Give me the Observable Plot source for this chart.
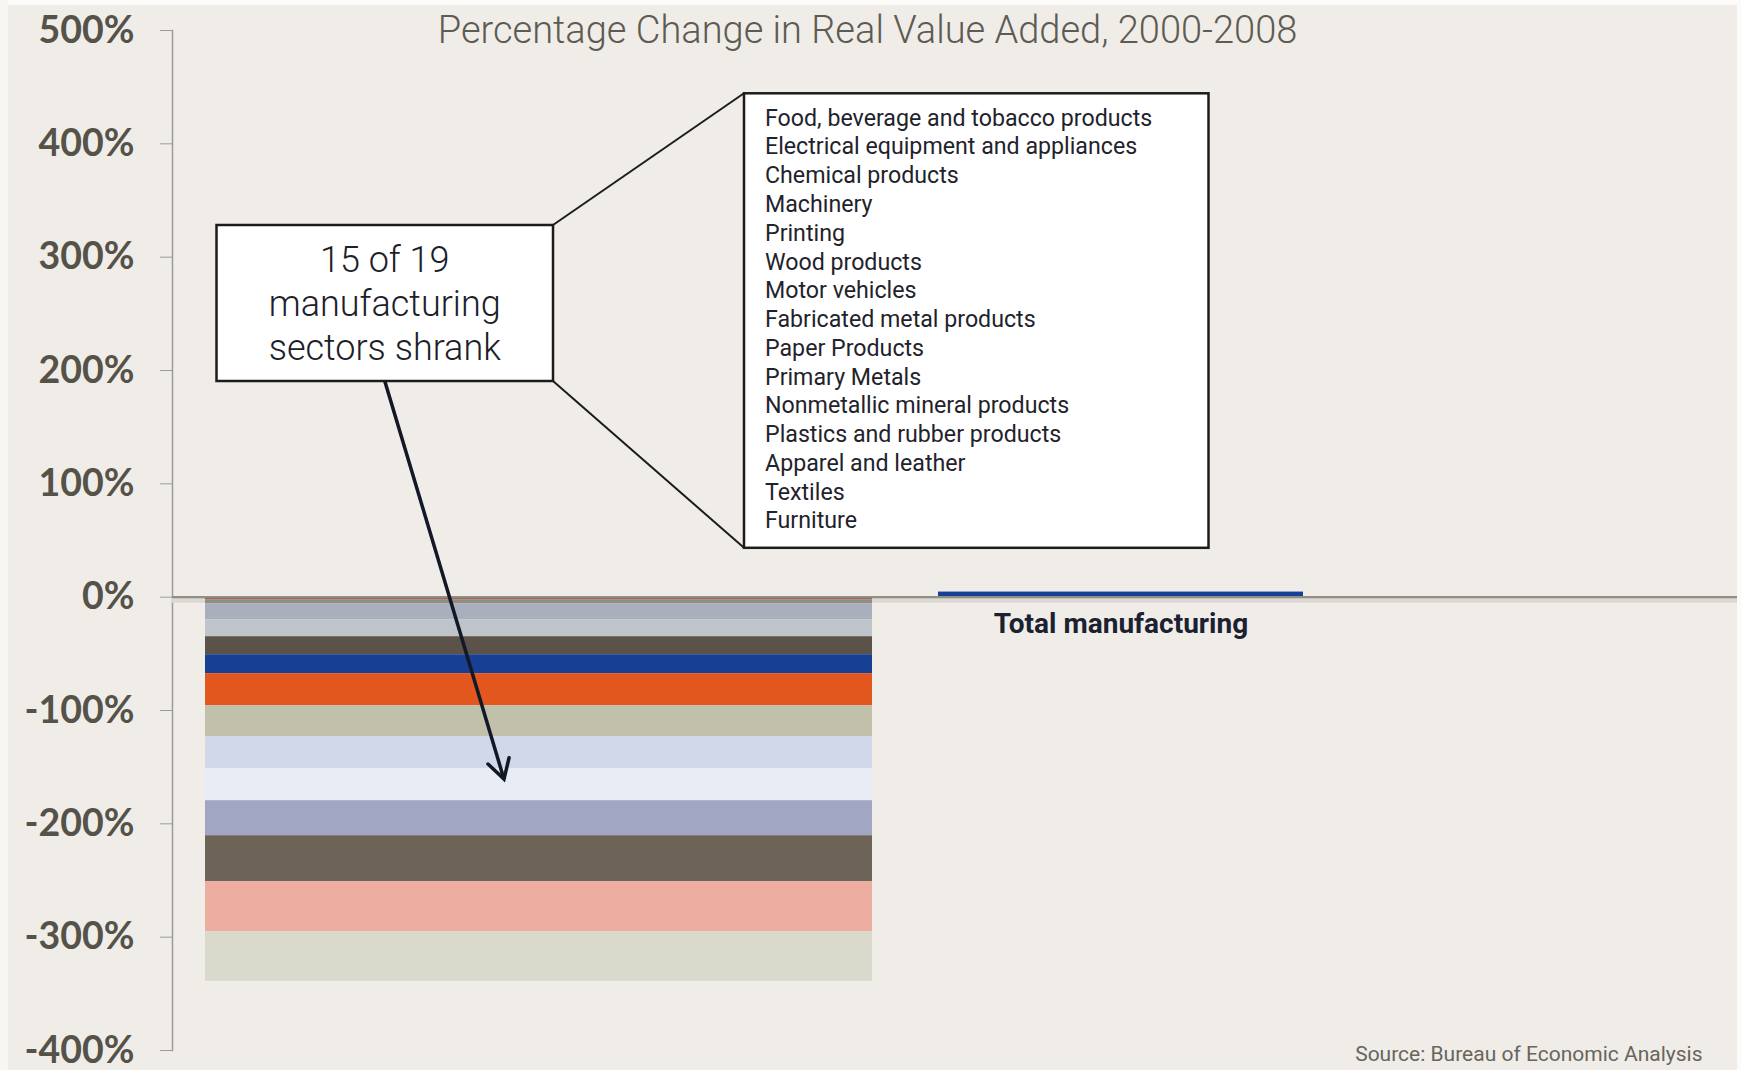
<!DOCTYPE html>
<html><head><meta charset="utf-8">
<script src="https://cdn.jsdelivr.net/npm/d3@7"></script>
<script src="https://cdn.jsdelivr.net/npm/@observablehq/plot@0.6"></script>
<style>
html,body{margin:0;padding:0;background:#fbfaf8;}
#chart{width:1741px;height:1070px;}
</style></head><body><div id="chart"></div>
<script>
// ---------- data ----------
const sectors = [
  "Food, beverage and tobacco products",
  "Electrical equipment and appliances",
  "Chemical products",
  "Machinery",
  "Printing",
  "Wood products",
  "Motor vehicles",
  "Fabricated metal products",
  "Paper Products",
  "Primary Metals",
  "Nonmetallic mineral products",
  "Plastics and rubber products",
  "Apparel and leather",
  "Textiles",
  "Furniture"
];
const sectorChange = [-0.8, -1.5, -3.5, -14.1, -15.0, -15.9, -16.7, -28.3, -27.3, -28.3, -28.2, -30.9, -40.6, -44.1, -43.7];
const sectorColors = ["#96958f", "#b4522a", "#8c8f88", "#a9afbd", "#bfc3ca", "#5b5249", "#173f94", "#e2571e",
                      "#c1c0ab", "#d0d8e9", "#e8edf5", "#a1a6c3", "#6e6357", "#eeada1", "#d9d9cc"];
const groups = ["15 of 19 sectors", "Total manufacturing"];
const totalChange = [4.5];
const yTicks = [-400, -300, -200, -100, 0, 100, 200, 300, 400, 500];
const titleText = "Percentage Change in Real Value Added, 2000-2008";
const sourceText = "Source: Bureau of Economic Analysis";
const calloutLines = ["15 of 19", "manufacturing", "sectors shrank"];
const arrowTarget = -161;

// ---------- tables ----------
const stackData = sectors.map((s, i) => ({group: groups[0], sector: s, value: sectorChange[i]}));
const totalData = totalChange.map(v => ({group: groups[1], value: v}));

const plot = Plot.plot({
  width: 1741, height: 1070,
  marginLeft: 172, marginRight: 4, marginTop: 30, marginBottom: 20,
  style: {background: "#f0ede8", fontFamily: "Roboto, sans-serif", overflow: "visible"},
  x: {type: "band", domain: groups, paddingInner: 0.0862, paddingOuter: 0.0646, align: 0, axis: null},
  y: {domain: [-400, 500], axis: null},
  color: {domain: sectors, range: sectorColors},
  marks: [
    Plot.frame({anchor: "left", stroke: "#9d9b96", strokeWidth: 1.5}),
    Plot.axisY({ticks: yTicks, tickSize: 12, tickPadding: 26, tickFormat: d => d + "%", label: null,
      stroke: "#9d9b96", fill: "#55524a", fontFamily: "Lato, sans-serif", fontWeight: 700, fontSize: 37.5}),
    Plot.ruleY([0], {stroke: "#dcd9d3", strokeWidth: 5, dy: 3}),
    Plot.barY(stackData, {x: "group", y: "value", fill: "sector", insetLeft: 33}),
    Plot.barY(totalData, {x: "group", y: "value", fill: "#173f94", insetRight: 335}),
    Plot.ruleY([0], {stroke: "#8f8e8a", strokeWidth: 2.2}),
    Plot.text(totalData, {x: "group", y: 0, text: "group", dx: -167.5, dy: 27,
      fontWeight: 700, fontSize: 28, fill: "#1b2130"}),
    Plot.text([titleText], {frameAnchor: "top", dx: -87.5, lineAnchor: "middle",
      fontSize: 38, fontWeight: 300, fill: "#5d5b53"}),
    Plot.text([sourceText], {frameAnchor: "bottom-right", dx: -35, dy: 10, lineAnchor: "bottom",
      textAnchor: "end", fontSize: 21, fill: "#68655d"})
  ]
});
document.getElementById("chart").appendChild(plot);

// ---------- annotations ----------
const svg = d3.select(plot);
// page edges
svg.insert("rect", ":first-child").attr("x", 0).attr("y", 0).attr("width", 8).attr("height", 1070).attr("fill", "#f7f6f3");
svg.insert("rect", ":first-child").attr("x", 0).attr("y", 0).attr("width", 1741).attr("height", 5).attr("fill", "#fcfbfa");
svg.append("rect").attr("x", 1737).attr("y", 0).attr("width", 4).attr("height", 1070).attr("fill", "#fbfbfa");

const ys = plot.scale("y");
const ann = svg.append("g");
const ink = "#1c1c1a";
const small = {x: 216.5, y: 225, w: 336.5, h: 156};
const big = {x: 744, y: 93.3, w: 464.5, h: 454.5};

ann.append("line").attr("x1", small.x + small.w).attr("y1", small.y).attr("x2", big.x).attr("y2", big.y)
  .attr("stroke", ink).attr("stroke-width", 2);
ann.append("line").attr("x1", small.x + small.w).attr("y1", small.y + small.h).attr("x2", big.x).attr("y2", big.y + big.h)
  .attr("stroke", ink).attr("stroke-width", 2);

ann.append("rect").attr("x", small.x).attr("y", small.y).attr("width", small.w).attr("height", small.h)
  .attr("fill", "#ffffff").attr("stroke", ink).attr("stroke-width", 2.5);
ann.append("rect").attr("x", big.x).attr("y", big.y).attr("width", big.w).attr("height", big.h)
  .attr("fill", "#ffffff").attr("stroke", ink).attr("stroke-width", 2.5);

const cx = small.x + small.w / 2;
[272, 316, 359.5].forEach((by, i) => {
  ann.append("text").attr("x", cx).attr("y", by).attr("text-anchor", "middle")
    .attr("font-family", "Roboto, sans-serif").attr("font-weight", 300).attr("font-size", 36).attr("fill", "#1c2029")
    .text(calloutLines[i]);
});
sectors.forEach((s, i) => {
  ann.append("text").attr("x", 765).attr("y", 125.7 + i * 28.76).attr("text-anchor", "start")
    .attr("font-family", "Roboto, sans-serif").attr("font-size", 23.2).attr("fill", "#1f232c")
    .text(s);
});

// arrow
const x0 = cx, y0 = small.y + small.h;
const x1 = 504, y1 = ys.apply(arrowTarget);
const ang = Math.atan2(y1 - y0, x1 - x0);
const L = 22, spread = Math.PI / 6;
const a1 = [x1 - L * Math.cos(ang - spread), y1 - L * Math.sin(ang - spread)];
const a2 = [x1 - L * Math.cos(ang + spread), y1 - L * Math.sin(ang + spread)];
ann.append("line").attr("x1", x0).attr("y1", y0).attr("x2", x1).attr("y2", y1)
  .attr("stroke", "#121826").attr("stroke-width", 3.5);
ann.append("path").attr("d", `M${a1[0]},${a1[1]}L${x1},${y1}L${a2[0]},${a2[1]}`)
  .attr("fill", "none").attr("stroke", "#121826").attr("stroke-width", 3.5)
  .attr("stroke-linejoin", "miter").attr("stroke-linecap", "round");
</script>
</body></html>
